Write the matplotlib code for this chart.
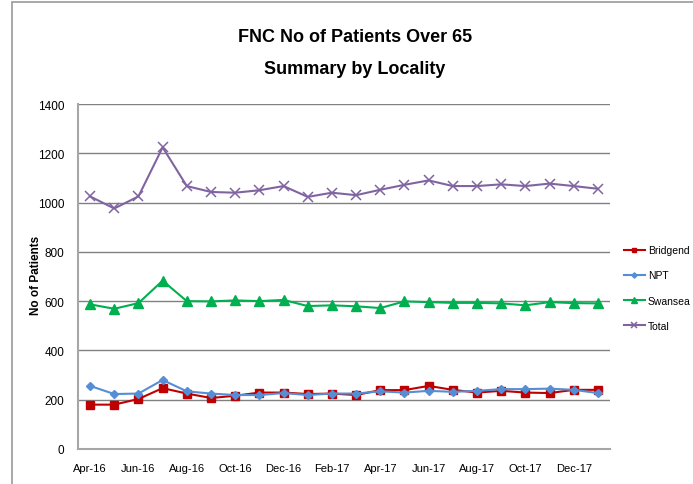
import matplotlib
matplotlib.use('Agg')
import matplotlib.pyplot as plt
from matplotlib.patches import Rectangle

plt.rcParams['font.family'] = ['Liberation Sans', 'DejaVu Sans']

months = ['Apr-16', 'May-16', 'Jun-16', 'Jul-16', 'Aug-16', 'Sep-16', 'Oct-16', 'Nov-16',
          'Dec-16', 'Jan-17', 'Feb-17', 'Mar-17', 'Apr-17', 'May-17', 'Jun-17', 'Jul-17',
          'Aug-17', 'Sep-17', 'Oct-17', 'Nov-17', 'Dec-17', 'Jan-18']

bridgend = [180, 180, 203, 247, 225, 207, 216, 229, 229, 223, 225, 219,
            239, 239, 256, 240, 229, 236, 229, 227, 240, 240]
npt = [256, 223, 225, 280, 234, 225, 219, 219, 227, 219, 225, 225,
       234, 229, 236, 232, 236, 243, 243, 245, 240, 227]
swansea = [587, 569, 592, 683, 600, 599, 603, 600, 605, 580, 583, 579,
           572, 599, 596, 593, 593, 591, 583, 596, 592, 591]
total = [1025, 976, 1025, 1224, 1067, 1043, 1040, 1050, 1067, 1023, 1040, 1030,
         1052, 1072, 1090, 1067, 1067, 1074, 1067, 1077, 1067, 1056]

fig = plt.figure(figsize=(6.93, 4.85), dpi=100)
fig.patches.append(Rectangle((12 / 693, -0.1), 1.2, 1.1 - 3 / 485, transform=fig.transFigure,
                             fill=False, edgecolor='#999999', linewidth=1.2))
ax = fig.add_axes([78 / 693, 35 / 485, 532 / 693, 345 / 485])

x = list(range(len(months)))
ax.plot(x, bridgend, color='#C00000', marker='s', markersize=6, linewidth=1.5, label='Bridgend')
ax.plot(x, npt, color='#558ED5', marker='D', markersize=4.5, linewidth=1.5, label='NPT')
ax.plot(x, swansea, color='#00B050', marker='^', markersize=7, linewidth=1.5, label='Swansea')
ax.plot(x, total, color='#8064A2', marker='x', markersize=7, markeredgewidth=1.1, linewidth=1.5, label='Total')

ax.set_xlim(-0.5, len(months) - 0.5)
ax.set_ylim(0, 1400)
ax.set_yticks(range(0, 1401, 200))
ax.set_xticks(x[::2])
ax.set_xticklabels(months[::2], fontsize=8)
ax.tick_params(axis='y', labelsize=8.5, length=0, pad=10)
ax.tick_params(axis='x', length=0, pad=10)
ax.yaxis.grid(True, color='#808080', linewidth=1)
ax.set_axisbelow(True)
for s in ['top', 'right']:
    ax.spines[s].set_visible(False)
ax.spines['left'].set_color('#A6A6A6')
ax.spines['bottom'].set_color('#A6A6A6')
ax.spines['left'].set_linewidth(1.5)
ax.spines['bottom'].set_linewidth(1.5)

fig.text(36 / 693, 1 - 275 / 485, 'No of Patients', rotation=90, ha='center', va='center',
         fontsize=8.5, fontweight='bold')
fig.text(355 / 693, 1 - 38 / 485, 'FNC No of Patients Over 65', ha='center', va='center',
         fontsize=13, fontweight='bold')
fig.text(355 / 693, 1 - 70 / 485, 'Summary by Locality', ha='center', va='center',
         fontsize=13, fontweight='bold')

fig.legend(loc='center left', bbox_to_anchor=(624 / 693, 1 - 289 / 485), frameon=False,
           fontsize=7.5, handlelength=2.0, labelspacing=1.45, markerscale=0.6, handletextpad=0.3,
           borderpad=0, borderaxespad=0)

fig.savefig('out.png', dpi=100)
